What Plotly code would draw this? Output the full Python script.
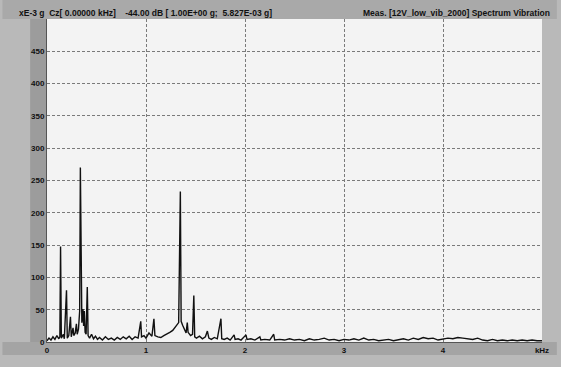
import plotly.graph_objects as go

# Vibration spectrum, amplitude in 1E-3 g versus frequency in kHz
freq_khz = [
    0.00, 0.02, 0.04, 0.06, 0.08, 0.10, 0.12, 0.130, 0.137, 0.145,
    0.165, 0.175, 0.197, 0.205, 0.220, 0.237, 0.245, 0.263, 0.270, 0.285,
    0.297, 0.305, 0.318, 0.330, 0.337, 0.345, 0.352, 0.363, 0.370, 0.377,
    0.385, 0.395, 0.407, 0.415, 0.43, 0.45, 0.47, 0.49, 0.51, 0.53,
    0.56, 0.59, 0.62, 0.65, 0.68, 0.71, 0.74, 0.77, 0.80, 0.83,
    0.86, 0.89, 0.92, 0.947, 0.955, 0.98, 1.00, 1.03, 1.06, 1.08,
    1.09, 1.12, 1.15, 1.18, 1.21, 1.24, 1.27, 1.30, 1.33, 1.347,
    1.355, 1.37, 1.39, 1.405, 1.417, 1.425, 1.45, 1.47, 1.483, 1.492,
    1.51, 1.54, 1.57, 1.60, 1.62, 1.635, 1.66, 1.69, 1.72, 1.757,
    1.765, 1.79, 1.82, 1.85, 1.89, 1.90, 1.93, 1.96, 2.01, 2.02,
    2.06, 2.10, 2.15, 2.16, 2.20, 2.25, 2.29, 2.30, 2.35, 2.40,
    2.45, 2.50, 2.55, 2.60, 2.65, 2.70, 2.75, 2.80, 2.85, 2.90,
    2.95, 3.00, 3.05, 3.10, 3.15, 3.20, 3.25, 3.30, 3.35, 3.40,
    3.45, 3.50, 3.55, 3.60, 3.65, 3.70, 3.75, 3.80, 3.85, 3.90,
    3.95, 4.00, 4.05, 4.10, 4.15, 4.20, 4.25, 4.30, 4.35, 4.40,
    4.45, 4.50, 4.55, 4.60, 4.65, 4.70, 4.75, 4.80, 4.85, 4.90,
    4.95, 5.00,
]
amplitude = [
    2, 6, 3, 8, 4, 10, 5, 8, 148, 6,
    12, 5, 80, 6, 10, 39, 8, 22, 10, 14,
    28, 12, 20, 48, 270, 52, 30, 51, 25, 48,
    15, 12, 85, 10, 6, 12, 5, 9, 4, 7,
    3, 8, 4, 6, 3, 7, 4, 8, 5, 9,
    4, 8, 6, 32, 8, 10, 6, 14, 9, 36,
    10, 8, 7, 10, 12, 15, 18, 24, 30, 233,
    32, 26, 18, 14, 30, 15, 10, 12, 72, 8,
    6, 9, 5, 8, 17, 6, 4, 7, 5, 36,
    5, 4, 6, 3, 11, 4, 5, 3, 11, 4,
    5, 3, 8, 3, 4, 3, 12, 3, 4, 3,
    5, 3, 4, 2, 5, 3, 4, 6, 3, 4,
    2, 4, 3, 5, 3, 6, 3, 4, 2, 3,
    4, 2, 3, 5, 3, 6, 4, 7, 5, 6,
    3, 4, 6, 5, 7, 6, 5, 4, 6, 3,
    2, 4, 2, 3, 2, 3, 2, 3, 2, 3,
    2, 2,
]

x_tick_vals = [0, 1, 2, 3, 4, 5]
x_tick_text = ["0", "1", "2", "3", "4", "kHz"]
y_tick_vals = [0, 50, 100, 150, 200, 250, 300, 350, 400, 450]

header_left = "xE-3 g  Cz[ 0.00000 kHz]    -44.00 dB [ 1.00E+00 g;  5.827E-03 g]"
header_right = "Meas. [12V_low_vib_2000] Spectrum Vibration"

tick_font = dict(family="Liberation Sans, Arial, sans-serif", size=8,
                 color="#111111", weight="bold")

fig = go.Figure()
fig.add_trace(go.Scatter(
    x=freq_khz, y=amplitude, mode="lines",
    line=dict(color="#111111", width=1.4),
    hoverinfo="x+y", showlegend=False,
))

grid_style = dict(showgrid=True, gridcolor="#7a7a7a", griddash="3px,2px", gridwidth=1)

fig.update_layout(
    width=561, height=367,
    margin=dict(l=47, r=13, t=19, b=13),
    paper_bgcolor="#b9b9b9",
    plot_bgcolor="#f3f3f3",
    font=tick_font,
    xaxis=dict(
        range=[0, 5], tickvals=x_tick_vals, ticktext=x_tick_text,
        zeroline=False, showline=True, linecolor="#555555", linewidth=1,
        ticks="", tickfont=tick_font, fixedrange=True, **grid_style,
    ),
    yaxis=dict(
        range=[0, 500], tickvals=y_tick_vals,
        zeroline=False, showline=True, linecolor="#555555", linewidth=1,
        ticks="", tickfont=tick_font, fixedrange=True, **grid_style,
    ),
    shapes=[
        # darker strip behind the y tick labels
        dict(type="rect", xref="paper", yref="paper", x0=-0.034, x1=0.0, y0=-0.04, y1=1.0,
             fillcolor="#9c9c9c", line=dict(width=0), layer="below"),
        # header band
        dict(type="rect", xref="paper", yref="paper", x0=-0.09, x1=1.03, y0=1.0, y1=1.06,
             fillcolor="#a9a9a9", line=dict(width=0), layer="below"),
        # footer band
        dict(type="rect", xref="paper", yref="paper", x0=-0.09, x1=1.03, y0=-0.04, y1=-0.0,
             fillcolor="#a4a4a4", line=dict(width=0), layer="below"),
    ],
    annotations=[
        dict(text="<b>" + header_left + "</b>", xref="paper", yref="paper",
             x=-0.06, y=0.998, xanchor="left", yanchor="bottom", showarrow=False,
             font=dict(size=8.5, family="Liberation Sans", color="#111111")),
        dict(text="<b>" + header_right + "</b>", xref="paper", yref="paper",
             x=1.02, y=0.998, xanchor="right", yanchor="bottom", showarrow=False,
             font=dict(size=8.5, family="Liberation Sans", color="#111111")),
    ],
)

fig.write_html("out.html")
